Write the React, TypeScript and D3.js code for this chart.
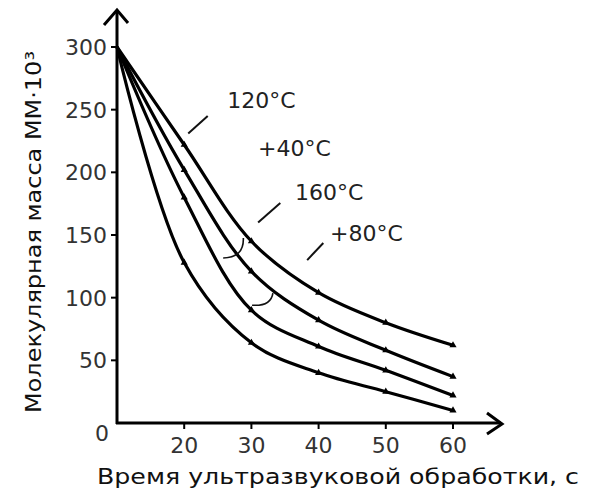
import React, { useRef, useEffect } from "react";
import * as d3 from "d3";

// время обработки, с
const times = [10, 20, 30, 40, 50, 60];
const xTicks = [20, 30, 40, 50, 60];
const yTicks = [50, 100, 150, 200, 250, 300];

// молекулярная масса для каждой кривой (сверху вниз)
const curve120 = [300, 222, 145, 104, 80, 62];
const curve140 = [300, 202, 121, 82, 58, 37];
const curve160 = [300, 180, 90, 61, 42, 22];
const curve180 = [300, 128, 64, 40, 25, 10];
const seriesList = [curve120, curve140, curve160, curve180];

const labelNames = ["120°C", "+40°C", "160°C", "+80°C"];
const labelX = [26.4, 31.0, 36.5, 41.7];
const labelY = [251, 213, 178, 145];

// выноски [x1, y1, x2, y2] в единицах данных
const leaders = [
  [20.6, 231, 23.5, 245],
  [31.0, 160, 34.3, 175.5],
  [38.3, 130, 40.7, 143.6],
];
// дуги [x1, y1, cx, cy, x2, y2]
const arcs = [
  [25.8, 131.7, 28.9, 132, 28.8, 147.6],
  [30.1, 94, 32.9, 93, 33.2, 103.7],
];

const FONT = "DejaVu Sans, sans-serif";

const App = () => {
  const ref = useRef<SVGSVGElement>(null);

  useEffect(() => {
    const width = 591;
    const height = 493;
    const svg = d3.select(ref.current);
    svg.selectAll("*").remove();
    svg.attr("width", width).attr("height", height);

    const x = d3.scaleLinear().domain([10, 60]).range([117, 453]);
    const y = d3.scaleLinear().domain([0, 300]).range([423, 47]);
    const x0 = x(10);
    const y0 = y(0);

    const g = svg.append("g").attr("font-family", FONT).attr("fill", "#111");

    // оси
    g.append("line")
      .attr("x1", x0).attr("y1", y0 + 1).attr("x2", x0).attr("y2", 11)
      .attr("stroke", "#000").attr("stroke-width", 3);
    g.append("path")
      .attr("d", `M${x0 - 13},${25} L${x0},${10} L${x0 + 11},${23}`)
      .attr("fill", "none").attr("stroke", "#000").attr("stroke-width", 3);
    g.append("line")
      .attr("x1", x0 - 1).attr("y1", y0).attr("x2", 501).attr("y2", y0)
      .attr("stroke", "#000").attr("stroke-width", 3);
    g.append("path")
      .attr("d", `M${487},${413} L${502},${y0 + 1} L${487},${434}`)
      .attr("fill", "none").attr("stroke", "#000").attr("stroke-width", 3);

    // деления оси y
    yTicks.forEach((t) => {
      g.append("line")
        .attr("x1", x0 - 6).attr("x2", x0).attr("y1", y(t)).attr("y2", y(t))
        .attr("stroke", "#000").attr("stroke-width", 2);
      g.append("text")
        .attr("x", x0 - 10).attr("y", y(t) + 8)
        .attr("text-anchor", "end").attr("font-size", 22)
        .attr("fill", "#333")
        .text(t);
    });
    // деления оси x
    xTicks.forEach((t) => {
      g.append("line")
        .attr("x1", x(t)).attr("x2", x(t)).attr("y1", y0).attr("y2", y0 + 6)
        .attr("stroke", "#000").attr("stroke-width", 2);
      g.append("text")
        .attr("x", x(t)).attr("y", y0 + 30)
        .attr("text-anchor", "middle").attr("font-size", 22)
        .attr("fill", "#333")
        .text(t);
    });
    g.append("text")
      .attr("x", x0 - 15).attr("y", y0 + 18)
      .attr("text-anchor", "middle").attr("font-size", 22).attr("fill", "#333")
      .text("0");

    // подписи осей
    g.append("text")
      .attr("x", 97).attr("y", 484)
      .attr("font-size", 22)
      .attr("textLength", 482).attr("lengthAdjust", "spacingAndGlyphs")
      .text("Время ультразвуковой обработки, с");
    g.append("text")
      .attr("transform", `translate(41,${413}) rotate(-90)`)
      .attr("font-size", 21)
      .attr("textLength", 362).attr("lengthAdjust", "spacingAndGlyphs")
      .text("Молекулярная масса ММ·10³");

    // кривые
    const line = d3.line<number>()
      .x((_, i) => x(times[i]))
      .y((d) => y(d))
      .curve(d3.curveCatmullRom.alpha(0.5));
    const marker = d3.symbol().type(d3.symbolTriangle).size(22);

    seriesList.forEach((s) => {
      g.append("path")
        .attr("d", line(s))
        .attr("fill", "none").attr("stroke", "#000").attr("stroke-width", 3.2);
      s.forEach((v, i) => {
        if (i === 0) return;
        g.append("path")
          .attr("d", marker())
          .attr("transform", `translate(${x(times[i])},${y(v)})`)
          .attr("fill", "#000");
      });
    });

    // подписи кривых
    labelNames.forEach((name, i) => {
      g.append("text")
        .attr("x", x(labelX[i])).attr("y", y(labelY[i]))
        .attr("font-size", 22).attr("fill", "#222")
        .text(name);
    });
    leaders.forEach(([a, b, c, d]) => {
      g.append("line")
        .attr("x1", x(a)).attr("y1", y(b)).attr("x2", x(c)).attr("y2", y(d))
        .attr("stroke", "#111").attr("stroke-width", 2);
    });
    arcs.forEach(([a, b, c, d, e, f]) => {
      g.append("path")
        .attr("d", `M${x(a)},${y(b)} Q${x(c)},${y(d)} ${x(e)},${y(f)}`)
        .attr("fill", "none").attr("stroke", "#111").attr("stroke-width", 1.6);
    });
  }, []);

  return (
    <svg ref={ref} style={{ position: "absolute", left: 0, top: 0, background: "#fff" }} />
  );
};

export default App;
